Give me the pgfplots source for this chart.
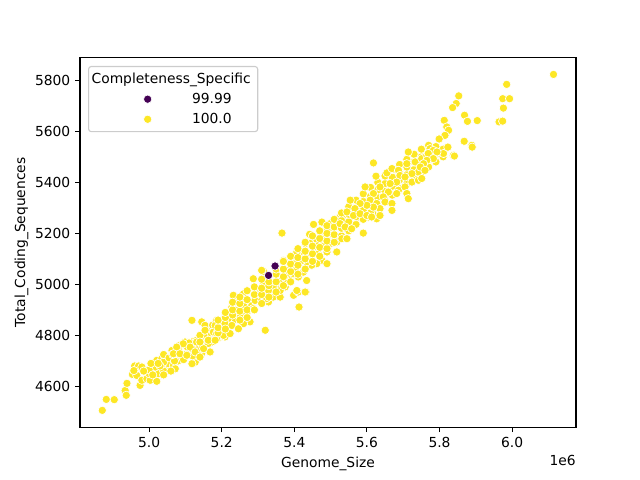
\documentclass[border=0pt]{standalone}
\usepackage{pgfplots}
\pgfplotsset{compat=1.18}
\usepackage{pgfplotstable}
\usepackage{fontspec}
\setmainfont{DejaVu Sans}
\definecolor{vpurple}{HTML}{440154}
\definecolor{vyellow}{HTML}{FDE725}
\pgfplotsset{mylegimg/.style={legend image code/.code={\path[draw=none,fill=none] (-39.7pt,-3pt) rectangle (15.1pt,3pt); \draw[##1] plot coordinates {(0pt,0pt)};}}}
\pgfplotstableread{
x y
4.871 4506
4.882 4549
4.904 4548
4.934 4584
4.937 4565
4.939 4612
4.954 4647
4.960 4680
4.971 4680
4.980 4676
4.966 4643
4.975 4604
4.980 4624
4.994 4630
5.003 4624
4.998 4656
5.021 4620
5.026 4650
5.017 4676
5.021 4702
5.035 4709
5.044 4715
5.049 4682
5.053 4689
5.067 4682
5.072 4669
5.076 4715
5.063 4741
5.081 4748
5.085 4761
5.099 4774
5.104 4728
5.113 4735
5.122 4761
5.127 4695
5.118 4689
5.131 4722
5.136 4748
5.150 4768
5.159 4787
5.163 4807
5.168 4820
5.173 4774
5.177 4794
5.118 4859
5.145 4853
5.154 4839
5.00 4650
5.00 4665
5.04 4660
5.04 4695
5.04 4725
5.08 4700
5.08 4730
5.12 4720
5.12 4745
5.12 4775
5.16 4760
5.16 4800
4.958 4662
4.985 4660
5.005 4690
5.010 4645
5.030 4680
5.040 4645
5.055 4712
5.060 4660
5.070 4700
5.090 4720
5.095 4705
5.105 4755
5.110 4770
5.130 4780
5.140 4800
5.145 4730
5.157 4757
5.170 4810
5.175 4840
5.190 4790
5.200 4825
5.065 4725
5.025 4690
5.177 4813
5.131 4774
5.113 4754
5.094 4767
5.076 4754
5.067 4728
5.085 4728
5.104 4722
5.127 4735
5.145 4748
5.163 4768
5.186 4787
5.200 4820
5.209 4794
5.168 4735
5.186 4859
5.209 4872
5.140 4715
5.287 5022
5.315 5003
5.315 5051
5.352 5003
5.366 5015
5.379 5009
5.375 4990
5.361 4983
5.388 5029
5.398 5042
5.411 5029
5.425 5048
5.434 5015
5.232 4957
5.260 4963
5.255 4944
5.237 4931
5.228 4911
5.260 4918
5.283 4918
5.292 4937
5.301 4963
5.324 4970
5.310 4937
5.329 4931
5.342 4950
5.361 4950
5.398 4957
5.411 4970
5.432 4970
5.413 4911
5.320 4820
5.223 4885
5.242 4898
5.251 4872
5.269 4885
5.278 4853
5.287 4905
5.260 4846
5.232 4859
5.218 4866
5.196 4846
5.182 4839
5.209 4846
5.228 4839
5.246 4826
5.186 4807
5.205 4800
5.223 4807
5.163 4781
5.182 4781
5.154 4820
5.150 4748
5.140 4774
5.366 5201
5.453 5235
5.476 5244
5.442 5196
5.499 5238
5.503 5212
5.517 5231
5.526 5264
5.535 5270
5.554 5264
5.567 5270
5.576 5264
5.590 5257
5.604 5264
5.617 5277
5.627 5257
5.590 5201
5.554 5231
5.535 5218
5.490 5212
5.485 5185
5.471 5173
5.466 5160
5.457 5179
5.444 5160
5.430 5160
5.425 5127
5.439 5120
5.453 5127
5.466 5120
5.485 5153
5.494 5166
5.508 5192
5.517 5127
5.499 5160
5.517 5166
5.490 5127
5.476 5094
5.490 5081
5.462 5081
5.448 5075
5.434 5088
5.421 5094
5.407 5127
5.402 5094
5.388 5094
5.398 5068
5.370 5094
5.384 5055
5.402 5055
5.375 5035
5.342 4990
5.361 4976
5.329 4976
5.324 4944
5.315 5009
5.310 5055
5.407 4976
5.430 4970
5.19 4810
5.19 4830
5.19 4860
5.21 4825
5.21 4870
5.21 4890
5.23 4880
5.23 4900
5.23 4930
5.25 4860
5.25 4895
5.25 4925
5.25 4950
5.27 4870
5.27 4900
5.27 4940
5.27 4975
5.29 4900
5.29 4960
5.29 4990
5.31 4925
5.31 4960
5.31 4985
5.31 5020
5.33 4950
5.33 4995
5.33 5010
5.35 4970
5.35 5010
5.35 5040
5.35 5060
5.37 4995
5.37 5030
5.37 5060
5.37 5090
5.39 5010
5.39 5050
5.39 5080
5.39 5110
5.41 5040
5.41 5075
5.41 5105
5.41 5140
5.43 5060
5.43 5100
5.43 5130
5.43 5165
5.45 5090
5.45 5120
5.45 5150
5.45 5190
5.47 5110
5.47 5145
5.47 5180
5.47 5210
5.49 5140
5.49 5170
5.49 5200
5.49 5230
5.51 5165
5.51 5195
5.51 5225
5.51 5255
5.53 5190
5.53 5220
5.53 5250
5.53 5280
5.55 5210
5.55 5245
5.55 5275
5.55 5305
5.57 5235
5.57 5265
5.57 5300
5.57 5330
5.59 5255
5.59 5290
5.59 5325
5.59 5355
5.61 5280
5.61 5315
5.61 5345
5.61 5380
5.63 5300
5.63 5340
5.63 5370
5.63 5400
5.65 5330
5.65 5365
5.65 5395
5.65 5425
5.67 5350
5.67 5385
5.67 5420
5.67 5450
5.69 5375
5.69 5410
5.69 5440
5.69 5470
5.71 5395
5.71 5430
5.71 5460
5.71 5490
5.73 5420
5.73 5450
5.73 5480
5.73 5510
5.75 5440
5.75 5470
5.75 5500
5.75 5530
5.77 5460
5.77 5490
5.77 5520
5.77 5545
5.79 5480
5.79 5510
5.79 5540
5.81 5500
5.81 5530
5.618 5476
5.625 5424
5.655 5437
5.669 5454
5.687 5447
5.691 5427
5.710 5473
5.714 5519
5.733 5480
5.751 5493
5.765 5506
5.788 5513
5.811 5513
5.838 5506
5.742 5440
5.724 5434
5.705 5421
5.682 5401
5.664 5395
5.687 5369
5.705 5382
5.724 5401
5.742 5408
5.710 5356
5.682 5356
5.659 5362
5.645 5343
5.636 5382
5.618 5356
5.595 5382
5.609 5330
5.627 5317
5.650 5323
5.669 5317
5.669 5290
5.636 5297
5.618 5303
5.600 5310
5.581 5317
5.567 5297
5.554 5330
5.545 5284
5.563 5270
5.581 5277
5.600 5270
5.613 5264
5.636 5270
5.714 5336
5.526 5238
5.540 5225
5.558 5218
5.531 5179
5.545 5179
5.985 5784
5.974 5728
5.993 5728
5.976 5691
5.964 5637
5.974 5640
5.853 5739
5.846 5709
5.836 5693
5.869 5663
5.877 5639
5.904 5642
5.813 5643
5.820 5617
5.825 5604
5.815 5584
5.799 5570
5.868 5561
5.889 5545
5.890 5538
5.823 5538
5.841 5503
5.774 5532
5.783 5525
5.793 5519
5.769 5513
5.783 5493
5.765 5486
5.756 5473
5.747 5460
5.760 5447
5.751 5415
6.114 5823
}\yellowdata
\pgfplotstableread{
x y
5.329 5035
5.347 5072
}\purpledata
\begin{document}
\fontsize{10}{12}\selectfont
\begin{tikzpicture}
\path[use as bounding box] (0,0) rectangle (6.4in,4.8in);
\begin{axis}[
  at={(0.8in,0.528in)}, anchor=south west,
  width=4.96in, height=3.696in, scale only axis,
  clip mode=individual,
  xmin=4.8096, xmax=6.176, ymin=4440, ymax=5889,
  xtick={5.0,5.2,5.4,5.6,5.8,6.0},
  xticklabels={5.0,5.2,5.4,5.6,5.8,6.0},
  ytick={4600,4800,5000,5200,5400,5600,5800},
  yticklabels={4600,4800,5000,5200,5400,5600,5800},
  tick pos=left, tick align=outside, major tick length=3.5pt,
  tick style={black, line width=0.8pt},
  axis line style={line width=0.8pt},
  ticklabel style={font=\fontsize{10}{12}\selectfont},
  label style={font=\fontsize{10}{12}\selectfont},
  ylabel style={yshift=-2pt},
  xlabel={Genome\_Size}, ylabel={Total\_Coding\_Sequences},
  legend cell align=left,
  legend style={at={(0,1)}, anchor=north west, xshift=5.8pt, yshift=-6pt,
    draw=black!20, line width=0.8pt, rounded corners=2pt, fill=white,
    inner xsep=3pt, inner ysep=2.5pt, column sep=0pt, row sep=1.6pt,
    nodes={inner sep=2pt},
    font=\fontsize{10}{12}\selectfont},
]
\addlegendimage{empty legend}
\addlegendentry{\hspace{-57.6pt}Completeness\_Specific}
\addlegendimage{only marks, mark=*, mark size=3pt, mark options={fill=vpurple, draw=white, line width=0.48pt}, mylegimg}
\addlegendentry{\hspace{15pt}99.99}
\addlegendimage{only marks, mark=*, mark size=3pt, mark options={fill=vyellow, draw=white, line width=0.48pt}, mylegimg}
\addlegendentry{\hspace{15pt}100.0}
\addplot[only marks, mark=*, mark size=3pt, mark options={fill=vyellow, draw=white, line width=0.48pt}, forget plot] table[x=x,y=y]{\yellowdata};
\addplot[only marks, mark=*, mark size=3pt, mark options={fill=vpurple, draw=white, line width=0.48pt}, forget plot] table[x=x,y=y]{\purpledata};
\node[anchor=north east, inner sep=0pt] at (rel axis cs:1,0) [yshift=-20pt] {1e6};
\end{axis}
\end{tikzpicture}
\end{document}
